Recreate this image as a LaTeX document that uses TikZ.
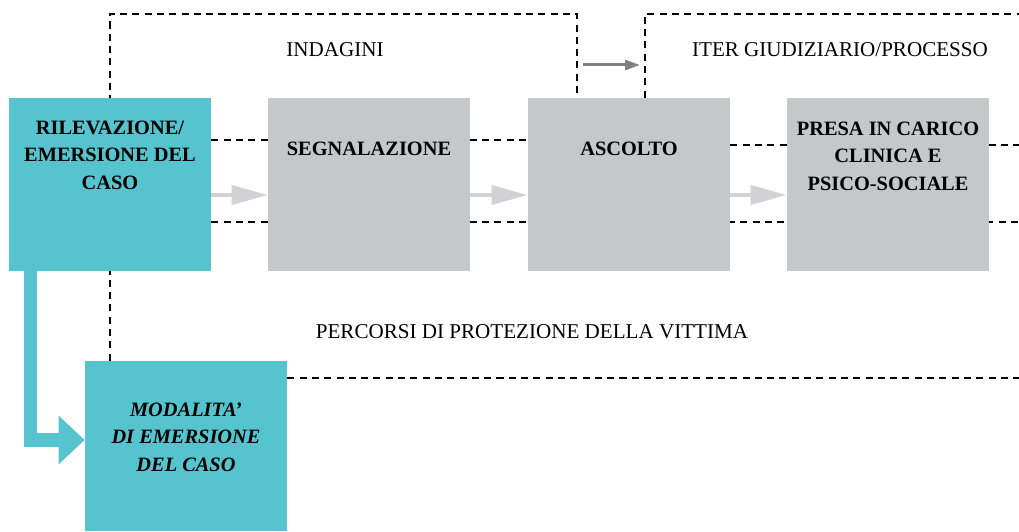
\documentclass[tikz,border=0pt]{standalone}
\usepackage{fontspec}
\setmainfont{Liberation Serif}
\usepackage{tikz}
\usetikzlibrary{backgrounds}
\usetikzlibrary{arrows.meta}
\usetikzlibrary{positioning}
\definecolor{casoteal}{RGB}{85,196,206}
\definecolor{boxgrey}{RGB}{198,199,201}
\definecolor{flowgrey}{RGB}{210,210,212}
\definecolor{darkflow}{RGB}{128,128,128}
\tikzset{box/.style={rectangle,minimum width=4.04cm,minimum height=3.46cm,inner sep=0pt}}
\tikzset{greybox/.style={box,fill=boxgrey}}
\tikzset{tealbox/.style={box,fill=casoteal}}
\tikzset{boxtext/.style={align=center,inner sep=0pt,font=\fontsize{11.6}{15.6}\selectfont\bfseries}}
\tikzset{areatext/.style={inner sep=0pt,font=\fontsize{12}{15}\selectfont}}
\tikzset{frame/.style={line width=1.4pt,dash pattern=on 4pt off 3pt}}
\tikzset{flow/.style={draw=flowgrey,line width=0.08cm,-{Triangle[length=0.72cm,width=0.38cm]}}}

\begin{document}
\begin{tikzpicture}
\useasboundingbox (0,0) rectangle (20.38,10.62);
% phases
\node[tealbox] (ril) at (2.2,6.93) {};
\node[greybox] (seg) at (7.38,6.93) {};
\node[greybox] (asc) at (12.58,6.93) {};
\node[greybox] (presa) at (17.76,6.93) {};
\node[tealbox, minimum height=3.4cm] (mod) at (3.72,1.7) {};

\node[boxtext, below=0.46cm of ril.north] (riltext) {RILEVAZIONE/\\EMERSIONE DEL\\CASO};
\node[boxtext, below=0.88cm of seg.north] (segtext) {SEGNALAZIONE};
\node[boxtext, below=0.88cm of asc.north] (asctext) {ASCOLTO};
\node[boxtext, below=0.48cm of presa.north] (presatext) {PRESA IN CARICO\\CLINICA E\\PSICO-SOCIALE};
\node[boxtext, below=0.84cm of mod.north] (modtext) {\itshape MODALITA'\\\itshape DI EMERSIONE\\\itshape DEL CASO};

% areas
\node[areatext] (indagini) at (6.7,9.62) {INDAGINI};
\node[areatext] (iter) at (16.8,9.62) {ITER GIUDIZIARIO/PROCESSO};
\node[areatext] (percorsi) at (10.64,3.98) {PERCORSI DI PROTEZIONE DELLA VITTIMA};

\begin{scope}[on background layer]
 \draw[frame] (mod.north -| 2.2,0) -- (2.2,10.34) -- (11.54,10.34) -- (asc.north -| 11.54,0);
 \draw[frame] (asc.north -| 12.9,0) -- (12.9,10.34) -- (20.38,10.34);
 \draw[frame] (ril.east |- 0,7.82) -- (asc.east |- 0,7.82);
 \draw[frame] (asc.east |- 0,7.72) -- (20.38,7.72);
 \draw[frame] (ril.east |- 0,6.18) -- (20.38,6.18);
 \draw[frame] (mod.east |- 0,3.06) -- (20.38,3.06);
\end{scope}

\coordinate (from) at (11.66,9.32);
\coordinate (to) at (12.8,9.32);
\draw[draw=darkflow,line width=0.06cm,-{Triangle[length=0.3cm,width=0.2cm]}] (from) -- (to);

\draw[flow] ([yshift=-0.21cm]ril.east) -- ([yshift=-0.21cm]seg.west);
\draw[flow] ([yshift=-0.21cm]seg.east) -- ([yshift=-0.21cm]asc.west);
\draw[flow] ([yshift=-0.21cm]asc.east) -- ([yshift=-0.21cm]presa.west);

\draw[draw=casoteal,line width=0.27cm,line join=miter,-{Triangle[length=0.52cm,width=0.94cm]}]
 ([xshift=0.44cm]ril.south west) |- ([yshift=0.12cm]mod.west);
\end{tikzpicture}
\end{document}
